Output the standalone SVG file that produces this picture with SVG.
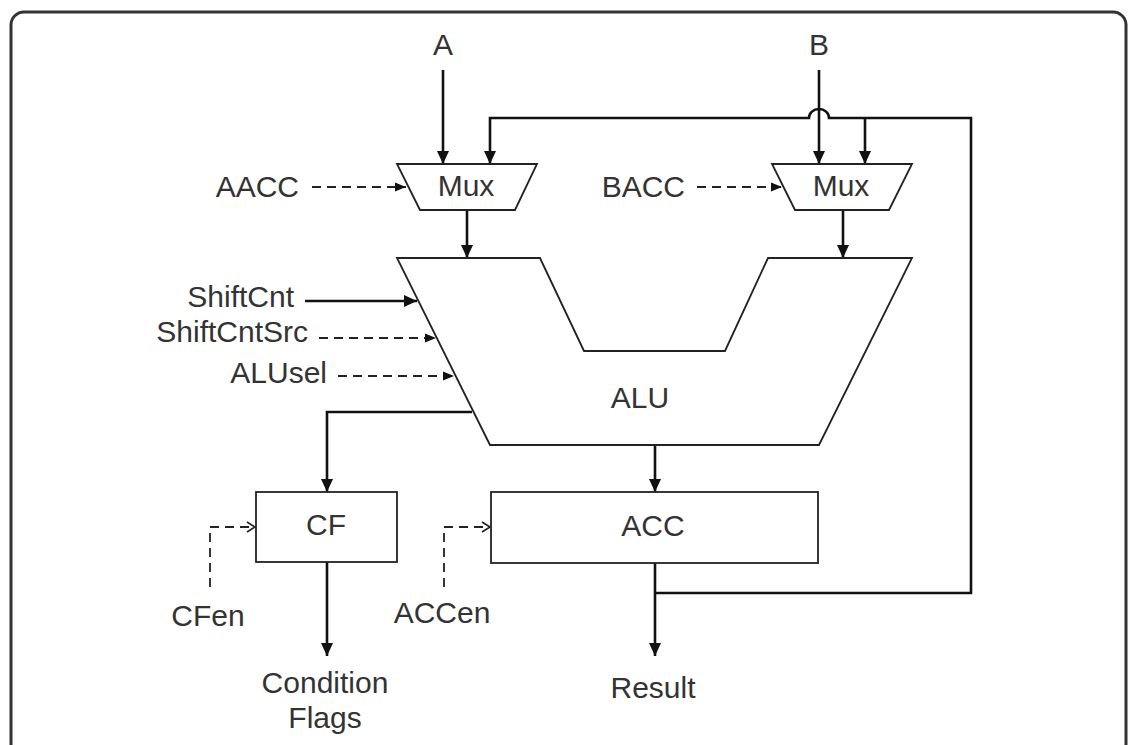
<svg xmlns="http://www.w3.org/2000/svg" width="1130" height="745" viewBox="0 0 1130 745">
<defs>
<style>
.shape{fill:#fff;stroke:#222;stroke-width:1.8}
.wire{fill:none;stroke:#111;stroke-width:2.6}
.ctl{fill:none;stroke:#222;stroke-width:1.8;stroke-dasharray:9 6}
.lbl{font-family:"Liberation Sans",Arial,sans-serif;font-size:30px;fill:#333}
.mid{text-anchor:middle}
.end{text-anchor:end}
</style>
<marker id="ah" markerUnits="userSpaceOnUse" markerWidth="14" markerHeight="14" viewBox="0 0 14 14" refX="13" refY="7" orient="auto">
<path d="M0,1 L13,7 L0,13 Z" fill="#111"/>
</marker>
<marker id="as" markerUnits="userSpaceOnUse" markerWidth="12" markerHeight="10" viewBox="0 0 12 10" refX="11" refY="5" orient="auto">
<path d="M0,0.5 L11,5 L0,9.5 Z" fill="#111"/>
</marker>
<marker id="ao" markerUnits="userSpaceOnUse" markerWidth="12" markerHeight="12" viewBox="0 0 12 12" refX="10" refY="6" orient="auto">
<path d="M2,1 L10,6 L2,11" fill="none" stroke="#222" stroke-width="1.6"/>
</marker>
</defs>
<rect x="11" y="12" width="1115" height="745" rx="13" fill="#fff" stroke="#333" stroke-width="3"/>

<g id="connectors">
<path class="wire" d="M443,70 V164" marker-end="url(#ah)"/>
<path class="wire" d="M819,70 V164" marker-end="url(#ah)"/>
<path class="wire" d="M655,593 H971 V118 H829 A10,9 0 0 0 809,118 H490 V164" marker-end="url(#ah)"/>
<path class="wire" d="M865,118 V164" marker-end="url(#ah)"/>
<path class="wire" d="M467,210 V258" marker-end="url(#ah)"/>
<path class="wire" d="M843,210 V258" marker-end="url(#ah)"/>
<path class="wire" d="M472,412 H327 V492" marker-end="url(#ah)"/>
<path class="wire" d="M655,445 V492" marker-end="url(#ah)"/>
<path class="wire" d="M327,562 V656" marker-end="url(#ah)"/>
<path class="wire" d="M655,563 V656" marker-end="url(#ah)"/>
<path class="wire" d="M305,301 H417" marker-end="url(#ah)"/>
<path class="ctl" d="M312,187 H406" marker-end="url(#as)"/>
<path class="ctl" d="M697,187 H782" marker-end="url(#as)"/>
<path class="ctl" d="M319,338 H436" marker-end="url(#as)"/>
<path class="ctl" d="M338,376 H454" marker-end="url(#as)"/>
<path class="ctl" d="M210,587 V527 H255" marker-end="url(#ao)"/>
<path class="ctl" d="M444,587 V527 H490" marker-end="url(#ao)"/>
</g>

<g id="muxA">
<polygon class="shape" points="397,164 537,164 515,210 420,210"/>
<text class="lbl mid" x="466" y="196">Mux</text>
</g>
<g id="muxB">
<polygon class="shape" points="772,164 912,164 889,210 795,210"/>
<text class="lbl mid" x="841" y="196">Mux</text>
</g>
<g id="alu">
<polygon class="shape" points="397,258 540,258 584,351 725,351 768,258 912,258 819,445 490,445"/>
<text class="lbl mid" x="640" y="408">ALU</text>
</g>
<g id="cf">
<rect class="shape" x="256" y="492" width="141" height="70"/>
<text class="lbl mid" x="326" y="535">CF</text>
</g>
<g id="acc">
<rect class="shape" x="491" y="492" width="327" height="71"/>
<text class="lbl mid" x="653" y="536">ACC</text>
</g>

<g id="labels">
<text class="lbl mid" x="443" y="55">A</text>
<text class="lbl mid" x="819" y="55">B</text>
<text class="lbl end" x="299" y="197">AACC</text>
<text class="lbl end" x="685" y="197">BACC</text>
<text class="lbl end" x="294" y="307">ShiftCnt</text>
<text class="lbl end" x="308" y="342">ShiftCntSrc</text>
<text class="lbl end" x="327" y="383">ALUsel</text>
<text class="lbl mid" x="208" y="626">CFen</text>
<text class="lbl mid" x="442" y="623">ACCen</text>
<text class="lbl mid" x="325" y="693">Condition</text>
<text class="lbl mid" x="325" y="728">Flags</text>
<text class="lbl mid" x="653" y="698">Result</text>
</g>
</svg>
